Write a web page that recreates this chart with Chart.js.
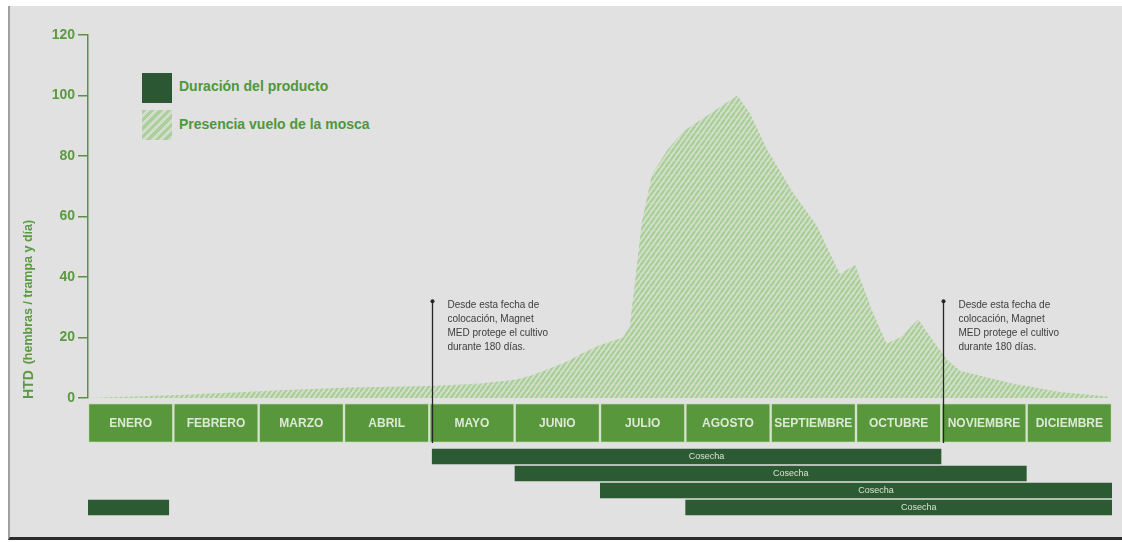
<!DOCTYPE html>
<html lang="es">
<head>
<meta charset="utf-8">
<title>Presencia vuelo de la mosca</title>
<script src="https://cdn.jsdelivr.net/npm/chart.js@4.4.1/dist/chart.umd.min.js"></script>
<style>
html, body { margin: 0; padding: 0; background: #ffffff; overflow: hidden; }
#frame {
    position: absolute; left: 8px; top: 6px; width: 1114px; height: 534px;
    background: #e1e1e1; border-left: 2px solid #a0a0a0; border-bottom: 3px solid #2b2b2b;
    box-sizing: border-box;
}
canvas { position: absolute; left: 0; }
#area { top: 0; z-index: 3; pointer-events: none; }
#months { top: 403px; z-index: 1; }
#gantt { top: 448px; z-index: 1; }
.sw { position: absolute; left: 142px; width: 30px; height: 30px; z-index: 2; }
.sw.dark { top: 73px; background: #2b5733; }
.sw.hatch {
    top: 110px;
    background: repeating-linear-gradient(135deg, #acd09b 0 3px, #d3dccd 3px 6px);
}
.lg {
    position: absolute; left: 179px; z-index: 2;
    font: bold 14px "Liberation Sans", Arial, sans-serif; color: #4f983a;
}
</style>
</head>
<body>
<div id="frame"></div>
<div class="sw dark"></div>
<div class="lg" style="top:78px">Duración del producto</div>
<div class="sw hatch"></div>
<div class="lg" style="top:116px">Presencia vuelo de la mosca</div>
<canvas id="months" width="1122" height="40"></canvas>
<canvas id="gantt" width="1122" height="68"></canvas>
<canvas id="area" width="1122" height="542"></canvas>
<script>
// months along the bottom band
const months = ['ENERO', 'FEBRERO', 'MARZO', 'ABRIL', 'MAYO', 'JUNIO', 'JULIO',
    'AGOSTO', 'SEPTIEMBRE', 'OCTUBRE', 'NOVIEMBRE', 'DICIEMBRE'];

// fly flight curve (x in months from 1 Jan, y = HTD)
const flyMonths = [0, 1.08, 2.25, 3.07, 4.01, 4.6, 5.0, 5.21, 5.61, 5.77, 6.0, 6.27, 6.35,
    6.49, 6.61, 6.79, 6.97, 7.29, 7.61, 7.76, 7.96, 8.26, 8.54, 8.81, 8.99, 9.2, 9.36,
    9.52, 9.73, 9.9, 10.07, 10.22, 10.8, 11.39, 11.95];
const flyValues = [0, 1, 2.6, 3.5, 4, 4.8, 6, 7.5, 12, 14.5, 17.5, 20, 24,
    58, 74, 82, 88, 94, 100, 94, 82, 68, 57, 41, 44, 28, 18,
    20, 26, 19, 12.6, 9, 5, 2, 0.5];

const yTicksMin = 0;
const yTicksMax = 120;
const yTicksStep = 20;
const yTitleMain = 'HTD';
const yTitleSub = '(hembras / trampa y día)';

// placement markers
const markerMonths = [4.03, 10.02];
const markerTop = 32;
const markerNote = ['Desde esta fecha de', 'colocación, Magnet', 'MED protege el cultivo', 'durante 180 días.'];

// product duration bars
const ganttRows = ['r1', 'r2', 'r3', 'r4'];
const ganttStart = [4.03, 5.0, 6.0, 7.0, 0];
const ganttEnd = [10.0, 11.0, 12.0, 12.0, 0.95];
const ganttRow = ['r1', 'r2', 'r3', 'r4', 'r4'];
const ganttLabel = ['Cosecha', 'Cosecha', 'Cosecha', 'Cosecha', ''];

const FONT = '"Liberation Sans", Arial, sans-serif';
const GREEN_TEXT = '#5a9a40';
const GREEN_AXIS = '#5b9048';

function makeHatch() {
    const c = document.createElement('canvas');
    c.width = 5; c.height = 7;
    const g = c.getContext('2d');
    g.fillStyle = 'rgba(200,222,188,0.5)';
    g.fillRect(0, 0, 5, 7);
    g.strokeStyle = '#a9cf97';
    g.lineWidth = 2.2;
    g.beginPath();
    for (let k = -1; k <= 1; k++) {
        g.moveTo(k * 5, 7);
        g.lineTo(k * 5 + 5, 0);
    }
    g.stroke();
    return g.createPattern(c, 'repeat');
}

// text centred on each bar
const barText = {
    id: 'barText',
    afterDatasetsDraw(chart, args, opts) {
        const ctx = chart.ctx;
        ctx.save();
        ctx.font = opts.font;
        ctx.fillStyle = opts.color;
        ctx.textAlign = 'center';
        ctx.textBaseline = 'middle';
        chart.getDatasetMeta(0).data.forEach((el, i) => {
            const t = opts.labels[i];
            if (!t) return;
            const p = el.getCenterPoint();
            ctx.fillText(t, p.x + (opts.shift || 0), p.y + 0.5);
        });
        ctx.restore();
    }
};

// vertical placement markers with note
const markers = {
    id: 'markers',
    afterDatasetsDraw(chart) {
        const { ctx, chartArea, scales: { x, y } } = chart;
        ctx.save();
        markerMonths.forEach((m) => {
            const px = Math.round(x.getPixelForValue(m)) + 0.5;
            const top = y.getPixelForValue(markerTop);
            ctx.strokeStyle = '#262626';
            ctx.lineWidth = 1.3;
            ctx.beginPath();
            ctx.moveTo(px, top);
            ctx.lineTo(px, chartArea.bottom + 45);
            ctx.stroke();
            ctx.fillStyle = '#262626';
            ctx.beginPath();
            ctx.arc(px, top, 2, 0, Math.PI * 2);
            ctx.fill();
            ctx.fillStyle = '#3d3d3d';
            ctx.font = '10px ' + FONT;
            ctx.textBaseline = 'middle';
            markerNote.forEach((line, i) => ctx.fillText(line, px + 15, top + 4 + i * 14));
        });
        ctx.restore();
    }
};

// rotated y title with bold unit
const yTitle = {
    id: 'yTitle',
    afterDraw(chart) {
        const ctx = chart.ctx;
        ctx.save();
        ctx.translate(29, 399);
        ctx.rotate(-Math.PI / 2);
        ctx.fillStyle = GREEN_TEXT;
        ctx.textBaseline = 'middle';
        ctx.font = 'bold 14px ' + FONT;
        ctx.fillText(yTitleMain, 0, 0);
        const w = ctx.measureText(yTitleMain + ' ').width;
        ctx.font = 'bold 12.5px ' + FONT;
        ctx.fillText(yTitleSub, w + 2, 0);
        ctx.restore();
    }
};

new Chart(document.getElementById('area'), {
    type: 'line',
    data: {
        datasets: [{
            data: flyMonths.map((m, i) => ({ x: m, y: flyValues[i] })),
            fill: 'origin',
            backgroundColor: makeHatch(),
            borderWidth: 0,
            pointRadius: 0,
            tension: 0,
        }],
    },
    options: {
        responsive: false,
        animation: false,
        layout: { padding: { top: 35, bottom: 144, right: 10, left: 0 } },
        plugins: { legend: { display: false }, tooltip: { enabled: false } },
        scales: {
            x: { type: 'linear', min: 0, max: 12, display: false },
            y: {
                min: yTicksMin,
                max: yTicksMax,
                ticks: {
                    stepSize: yTicksStep,
                    color: GREEN_TEXT,
                    padding: 3,
                    font: { family: FONT, weight: 'bold', size: 14 },
                },
                grid: { drawOnChartArea: false, tickLength: 10, color: GREEN_AXIS, lineWidth: 1.5 },
                border: { color: GREEN_AXIS, width: 1.5 },
                afterFit(scale) { scale.width = 88; },
            },
        },
    },
    plugins: [markers, yTitle],
});

new Chart(document.getElementById('months'), {
    type: 'bar',
    data: {
        labels: ['meses'],
        datasets: [{
            data: months.map((m, i) => ({ x: [i, i + 1], y: 'meses' })),
            backgroundColor: '#58973b',
            borderColor: '#d5e2cb',
            borderWidth: 1.5,
            borderSkipped: false,
            barPercentage: 1,
            categoryPercentage: 1,
        }],
    },
    options: {
        indexAxis: 'y',
        responsive: false,
        animation: false,
        layout: { padding: { left: 88, right: 10 } },
        scales: {
            x: { type: 'linear', min: 0, max: 12, display: false },
            y: { display: false },
        },
        plugins: {
            legend: { display: false },
            tooltip: { enabled: false },
            barText: { labels: months, font: 'bold 12px ' + FONT, color: '#dde8d5' },
        },
    },
    plugins: [barText],
});

new Chart(document.getElementById('gantt'), {
    type: 'bar',
    data: {
        labels: ganttRows,
        datasets: [{
            data: ganttStart.map((s, i) => ({ x: [s, ganttEnd[i]], y: ganttRow[i] })),
            backgroundColor: '#2c5b33',
            borderWidth: 0,
            barPercentage: 0.9,
            categoryPercentage: 1,
        }],
    },
    options: {
        indexAxis: 'y',
        responsive: false,
        animation: false,
        layout: { padding: { left: 88, right: 10 } },
        scales: {
            x: { type: 'linear', min: 0, max: 12, display: false },
            y: { display: false },
        },
        plugins: {
            legend: { display: false },
            tooltip: { enabled: false },
            barText: { labels: ganttLabel, font: '9px ' + FONT, color: '#d9e4d2', shift: 20 },
        },
    },
    plugins: [barText],
});
</script>
</body>
</html>
